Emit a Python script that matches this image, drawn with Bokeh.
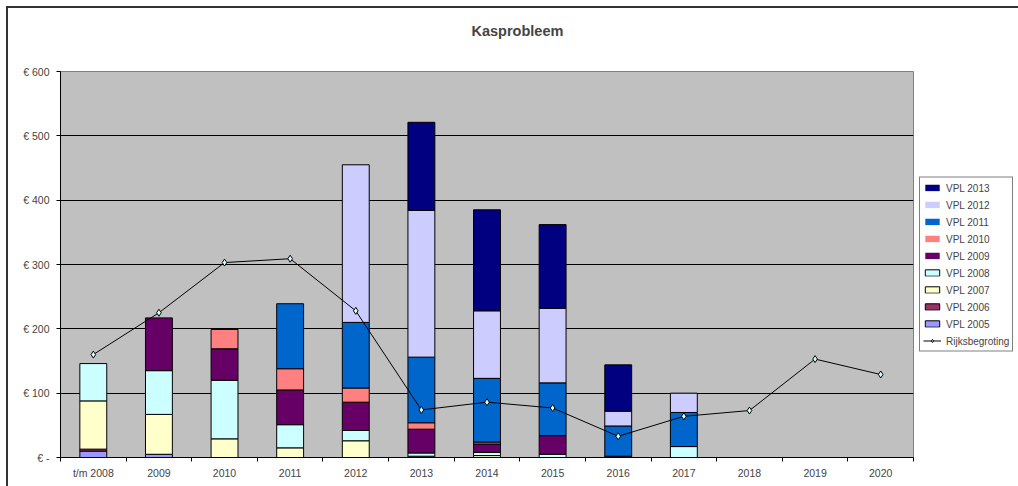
from bokeh.plotting import figure
from bokeh.models import FixedTicker, Legend, LegendItem, ColumnDataSource, Range1d
from bokeh.embed import file_html
from bokeh.resources import INLINE

categories = ["t/m 2008", "2009", "2010", "2011", "2012", "2013", "2014",
              "2015", "2016", "2017", "2018", "2019", "2020"]
vpl_2005 = [10, 5, 0, 0, 0, 0, 0, 0, 0, 0, 0, 0, 0]
vpl_2006 = [3, 0, 0, 0, 0, 0, 0, 0, 0, 0, 0, 0, 0]
vpl_2007 = [75, 62, 29, 15, 26, 2, 3, 0, 0, 0, 0, 0, 0]
vpl_2008 = [58, 68, 91, 36, 16, 5, 5, 5, 0, 17, 0, 0, 0]
vpl_2009 = [0, 82, 49, 54, 44, 37, 13, 29, 2, 0, 0, 0, 0]
vpl_2010 = [0, 0, 30, 33, 22, 10, 3, 0, 0, 0, 0, 0, 0]
vpl_2011 = [0, 0, 0, 101, 102, 102, 99, 82, 47, 53, 0, 0, 0]
vpl_2012 = [0, 0, 0, 0, 245, 228, 105, 116, 23, 30, 0, 0, 0]
vpl_2013 = [0, 0, 0, 0, 0, 137, 157, 130, 72, 0, 0, 0, 0]
rijksbegroting = [160, 225, 303, 309, 228, 74, 86, 77, 33, 64, 73, 153, 129]

series_names = ["VPL 2005", "VPL 2006", "VPL 2007", "VPL 2008", "VPL 2009",
                "VPL 2010", "VPL 2011", "VPL 2012", "VPL 2013"]
series_values = [vpl_2005, vpl_2006, vpl_2007, vpl_2008, vpl_2009,
                 vpl_2010, vpl_2011, vpl_2012, vpl_2013]
series_colors = ["#9999FF", "#993366", "#FFFFCC", "#CCFFFF", "#660066",
                 "#FF8080", "#0066CC", "#CCCCFF", "#000080"]
y_ticks = [0, 100, 200, 300, 400, 500, 600]
y_tick_labels = ["€ -", "€ 100", "€ 200", "€ 300", "€ 400", "€ 500", "€ 600"]

xs = [i + 0.5 for i in range(len(categories))]
data = {"x": xs}
alpha_cols = []
for k, (n, v) in enumerate(zip(series_names, series_values)):
    data[n] = v
    col = "line_alpha_%d" % k
    data[col] = [1.0 if val > 0 else 0.0 for val in v]
    alpha_cols.append(col)
src = ColumnDataSource(data)

FONT = "Liberation Sans"

p = figure(frame_width=853, frame_height=386, output_backend="svg",
           toolbar_location=None,
           x_range=Range1d(0, len(categories)), y_range=Range1d(0, 600),
           min_border_left=52, min_border_right=105, min_border_top=63,
           min_border_bottom=29, title="Kasprobleem\n ")
p.styles = {"margin-left": "6px", "margin-top": "6px",
            "border-left": "2px solid #333333", "border-top": "2px solid #333333"}

p.title.align = "left"
p.title.offset = 411
p.title.text_font = FONT
p.title.text_font_size = "14.5px"
p.title.text_font_style = "bold"
p.title.text_line_height = 1.7
p.title.standoff = 11

p.background_fill_color = "#C0C0C0"
p.border_fill_color = "white"
p.outline_line_color = "#808080"

p.xgrid.visible = False
p.ygrid.grid_line_color = "black"
p.ygrid.ticker = FixedTicker(ticks=y_ticks)

p.yaxis.ticker = FixedTicker(ticks=y_ticks, minor_ticks=[])
p.yaxis.major_label_overrides = {t: l for t, l in zip(y_ticks, y_tick_labels)}
p.yaxis.major_tick_out = 4
p.yaxis.major_tick_in = 0
p.yaxis.minor_tick_line_color = None
p.yaxis.axis_line_color = "black"
p.yaxis.major_tick_line_color = "black"
p.yaxis.major_label_text_font = FONT
p.yaxis.major_label_text_font_size = "10.5px"
p.yaxis.major_label_standoff = 7

p.xaxis.ticker = FixedTicker(ticks=xs, minor_ticks=list(range(len(categories) + 1)))
p.xaxis.major_label_overrides = {x: c for x, c in zip(xs, categories)}
p.xaxis.major_tick_in = 0
p.xaxis.major_tick_out = 0
p.xaxis.major_tick_line_color = None
p.xaxis.minor_tick_in = 0
p.xaxis.minor_tick_out = 4
p.xaxis.minor_tick_line_color = "black"
p.xaxis.axis_line_color = "black"
p.xaxis.major_label_text_font = FONT
p.xaxis.major_label_text_font_size = "10.5px"
p.xaxis.major_label_standoff = 5

bars = p.vbar_stack(series_names, x="x", width=0.41, color=series_colors,
                    line_color="black", line_width=1, line_alpha=alpha_cols,
                    source=src)

ln = p.line(xs, rijksbegroting, line_color="black", line_width=1)
mk = p.scatter(xs, rijksbegroting, marker="diamond", size=7,
               fill_color="#DDFFFF", line_color="black", line_width=1)

items = [LegendItem(label=n, renderers=[r]) for n, r in zip(series_names, bars)][::-1]
items.append(LegendItem(label="Rijksbegroting", renderers=[ln, mk]))
legend = Legend(items=items, location="center_left")
legend.border_line_color = "black"
legend.border_line_width = 1
legend.background_fill_color = "white"
legend.background_fill_alpha = 1
legend.label_text_font = FONT
legend.label_text_font_size = "10px"
legend.glyph_width = 18
legend.glyph_height = 8
legend.label_height = 14
legend.label_standoff = 5
legend.spacing = 3
legend.padding = 3
legend.margin = 6
p.add_layout(legend, "right")

open("out.html", "w").write(file_html(p, INLINE))
